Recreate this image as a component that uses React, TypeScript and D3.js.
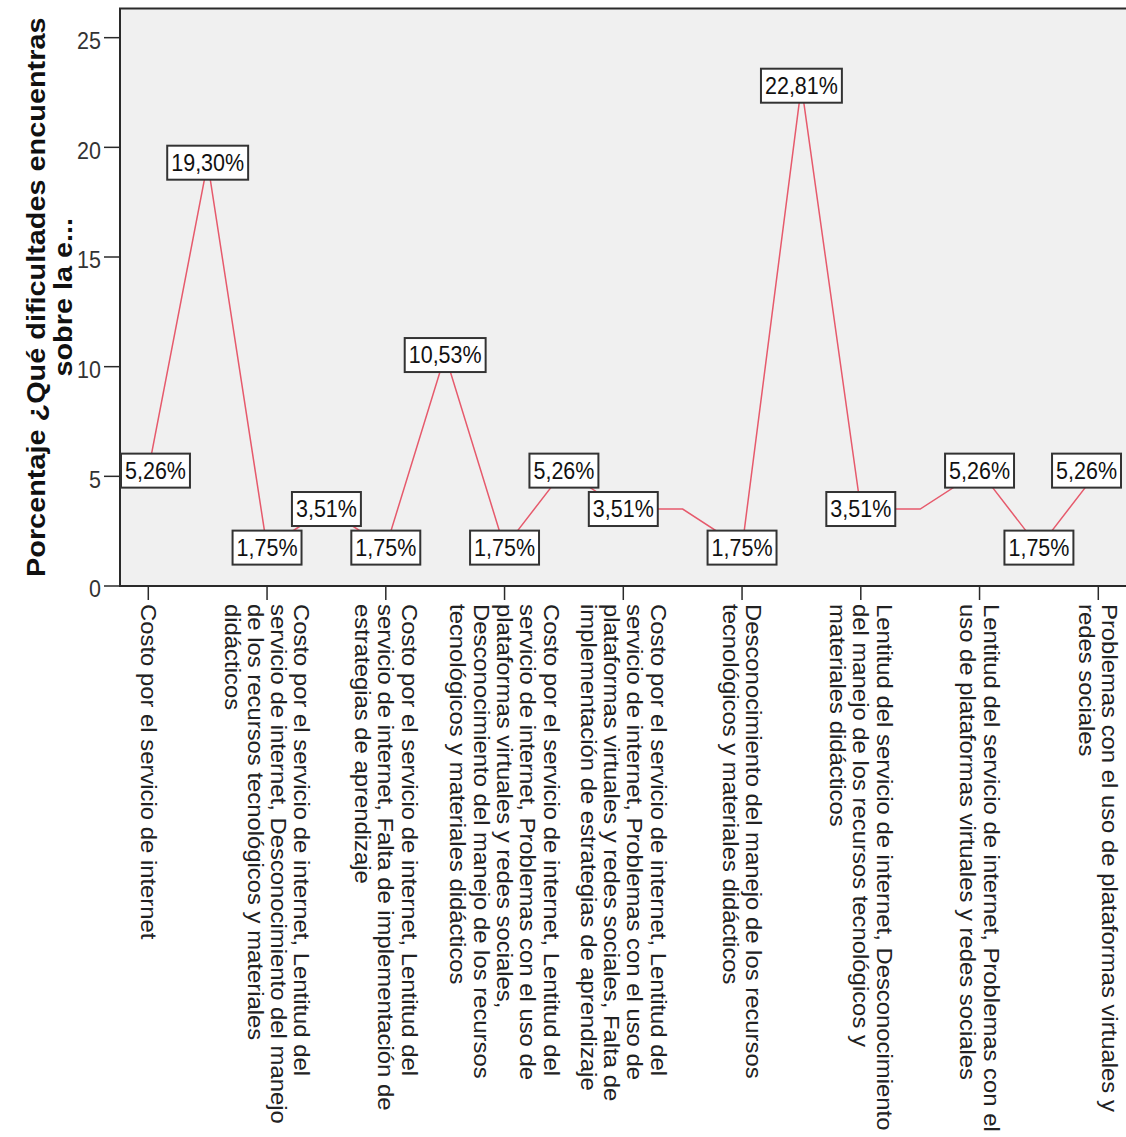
import React from "react";
import * as d3 from "d3";

const categories: string[] = [
  "Costo por el servicio de internet",
  "Costo por el servicio de internet, Lentitud del servicio de internet",
  "Costo por el servicio de internet, Lentitud del\nservicio de internet, Desconocimiento del manejo\nde los recursos tecnológicos y materiales\ndidácticos",
  "Costo por el servicio de internet, Lentitud del servicio de internet, Desconocimiento del manejo de los recursos tecnológicos y materiales didácticos, Falta de implementación de estrategias de aprendizaje",
  "Costo por el servicio de internet, Lentitud del\nservicio de internet, Falta de implementación de\nestrategias de aprendizaje",
  "Costo por el servicio de internet, Lentitud del servicio de internet, Problemas con el uso de plataformas virtuales y redes sociales",
  "Costo por el servicio de internet, Lentitud del\nservicio de internet, Problemas con el uso de\nplataformas virtuales y redes sociales,\nDesconocimiento del manejo de los recursos\ntecnológicos y materiales didácticos",
  "Costo por el servicio de internet, Lentitud del servicio de internet, Problemas con el uso de plataformas virtuales y redes sociales, Desconocimiento del manejo de los recursos tecnológicos y materiales didácticos, Falta de implementación de estrategias de aprendizaje",
  "Costo por el servicio de internet, Lentitud del\nservicio de internet, Problemas con el uso de\nplataformas virtuales y redes sociales, Falta de\nimplementación de estrategias de aprendizaje",
  "Costo por el servicio de internet, Problemas con el uso de plataformas virtuales y redes sociales",
  "Desconocimiento del manejo de los recursos\ntecnológicos y materiales didácticos",
  "Lentitud del servicio de internet",
  "Lentitud del servicio de internet, Desconocimiento\ndel manejo de los recursos tecnológicos y\nmateriales didácticos",
  "Lentitud del servicio de internet, Falta de implementación de estrategias de aprendizaje",
  "Lentitud del servicio de internet, Problemas con el\nuso de plataformas virtuales y redes sociales",
  "Lentitud del servicio de internet, Problemas con el uso de plataformas virtuales y redes sociales, Falta de implementación de estrategias de aprendizaje",
  "Problemas con el uso de plataformas virtuales y\nredes sociales",
];

const percentages: number[] = [
  5.26, 19.3, 1.75, 3.51, 1.75, 10.53, 1.75, 5.26, 3.51, 3.51, 1.75, 22.81, 3.51,
  3.51, 5.26, 1.75, 5.26,
];

const yTicks: number[] = [0, 5, 10, 15, 20, 25];
const yMax = 26.33;
const yTitleLines: string[] = ["Porcentaje ¿Qué dificultades encuentras", "sobre la e..."];

const W = 1126;
const H = 1137;
const PL = 120;
const PT = 8.5;
const PB = 586;
const PR = 1145;
const SY = 1.11;
const FONT = "'Liberation Sans', Arial, sans-serif";
const FS = 21.5;
const LINE_COLOR = "#E65A6C";

let ctx: CanvasRenderingContext2D | null = null;
function measure(text: string, font: string): number {
  if (!ctx) {
    const c = document.createElement("canvas");
    ctx = c.getContext("2d");
  }
  if (!ctx) return text.length * 11;
  ctx.font = font;
  return ctx.measureText(text).width;
}

const fmtPct = (v: number) => d3.format(".2f")(v).replace(".", ",") + "%";

export default function App() {
  const x = d3.scalePoint<string>().domain(categories).range([148.3, 1098.3]);
  const y = d3.scaleLinear().domain([0, yMax]).range([PB, PT]);

  const linePath = d3
    .line<number>()
    .x((_, i) => x(categories[i]) as number)
    .y((d) => y(d))(percentages);

  type Box = { x: number; y: number; w: number; h: number; text: string; cx: number; cy: number };
  const boxes: Box[] = [];
  percentages.forEach((v, i) => {
    const text = fmtPct(v);
    const w = measure(text, `${FS}px ${FONT}`) + 8;
    const h = 34;
    const px = x(categories[i]) as number;
    const cy = y(v);
    let bx = px - w / 2;
    bx = Math.max(bx, PL + 1);
    bx = Math.min(bx, W - 5 - w);
    const b = { x: bx, y: cy - h / 2, w, h, text, cx: bx + w / 2, cy };
    const overlaps = boxes.some(
      (o) => b.x < o.x + o.w && b.x + b.w > o.x && b.y < o.y + o.h && b.y + b.h > o.y
    );
    if (!overlaps) boxes.push(b);
  });

  const LH = 23.3;

  return (
    <svg
      width={W}
      height={H}
      style={{ position: "absolute", left: 0, top: 0, display: "block", background: "#fff" }}
      fontFamily={FONT}
    >
      <rect x={0} y={0} width={W} height={H} fill="#fff" />
      <rect x={PL} y={PT} width={PR - PL} height={PB - PT} fill="#F0F0F0" stroke="#2a2a2a" strokeWidth={2} />

      {/* y axis ticks */}
      {yTicks.map((t) => (
        <g key={"yt" + t}>
          <line x1={104} x2={PL} y1={y(t)} y2={y(t)} stroke="#2a2a2a" strokeWidth={1.5} />
          <text
            transform={`translate(101, ${y(t) + 3}) scale(1, ${SY})`}
            textAnchor="end"
            dominantBaseline="central"
            fontSize={FS}
            fill="#333"
          >
            {t}
          </text>
        </g>
      ))}

      {/* x axis ticks and labels */}
      {categories.map((c, i) => {
        if (i % 2 !== 0) return null;
        const tx = x(c) as number;
        const lines = c.split("\n");
        const n = lines.length;
        return (
          <g key={"xt" + i}>
            <line x1={tx} x2={tx} y1={PB} y2={PB + 14} stroke="#2a2a2a" strokeWidth={1.5} />
            {lines.map((ln, j) => (
              <text
                key={j}
                transform={`translate(${tx + ((n - 1) / 2 - j) * LH}, 604) scale(1, ${SY}) rotate(90)`}
                textAnchor="start"
                dominantBaseline="central"
                fontSize={FS}
                fill="#222"
              >
                {ln}
              </text>
            ))}
          </g>
        );
      })}

      {/* line */}
      <path d={linePath || ""} fill="none" stroke={LINE_COLOR} strokeWidth={1.5} />

      {/* value labels */}
      {boxes.map((b, i) => (
        <g key={"lb" + i}>
          <rect x={b.x} y={b.y} width={b.w} height={b.h} fill="#fff" stroke="#333" strokeWidth={2} />
          <text
            transform={`translate(${b.cx}, ${b.cy}) scale(1, ${SY})`}
            textAnchor="middle"
            dominantBaseline="central"
            fontSize={FS}
            fill="#111"
          >
            {b.text}
          </text>
        </g>
      ))}

      {/* y axis title */}
      {yTitleLines.map((t, j) => (
        <text
          key={"yl" + j}
          transform={`translate(${45 + j * 27}, ${(PT + PB) / 2}) scale(1, ${SY}) rotate(-90)`}
          textAnchor="middle"
          fontSize={26}
          fontWeight="bold"
          fill="#111"
        >
          {t}
        </text>
      ))}
    </svg>
  );
}
